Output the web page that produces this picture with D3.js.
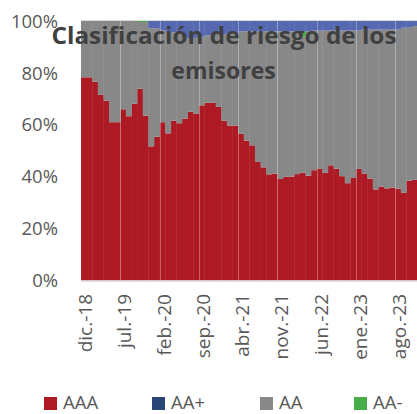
<!DOCTYPE html>
<html>
<head>
<meta charset="utf-8">
<script src="https://cdn.jsdelivr.net/npm/d3@7"></script>
<style>
  body { margin: 0; background: #fff; }
  text { font-family: "Open Sans", "Noto Sans", sans-serif; }
</style>
</head>
<body>
<div id="chart"></div>
<script>
// month labels, dic.-18 .. nov.-23
var monthNames = ["ene.","feb.","mar.","abr.","may.","jun.","jul.","ago.","sep.","oct.","nov.","dic."];
var months = [];
for (var k = 0; k < 60; k++) {
	var m = (11 + k) % 12, yr = 18 + Math.floor((11 + k) / 12);
	months.push(monthNames[m] + "-" + yr);
}

// % of portfolio by issuer rating
var AAA = [78.3,78.3,76.6,71.5,69.3,61.0,61.0,66.0,63.3,68.1,
	73.9,63.5,51.7,55.4,61.0,56.7,61.6,60.6,62.4,65.0,
	64.2,67.5,68.5,68.5,66.9,61.6,59.7,59.7,56.5,53.9,
	52.1,45.7,43.6,40.9,41.2,39.1,40.0,40.0,41.0,41.5,
	40.4,42.5,43.2,41.5,44.4,43.1,40.2,37.5,39.5,43.0,
	41.2,39.2,35.1,36.1,35.5,35.8,35.4,33.8,38.5,38.8];
var AA = [21.7,21.7,23.4,28.5,30.7,39.0,39.0,34.0,36.7,31.9,
	25.7,36.1,45.5,41.8,35.5,39.3,33.9,34.4,31.1,28.2,
	29.3,26.5,26.0,26.0,28.1,33.4,35.5,35.5,39.5,42.1,
	43.9,50.3,52.4,55.1,54.8,56.9,56.0,56.0,55.0,52.5,
	55.6,53.8,53.1,54.8,51.9,53.2,56.1,58.8,56.8,53.3,
	55.5,57.5,61.6,60.6,61.2,60.9,61.3,63.6,58.9,59.2];
var AAminus = [0,0,0,0,0,0,0,0,0,0,
	0.4,0.4,0,0,0,0,0,0,0,0,
	0,0,0,0,0,0,0,0,0,0,
	0,0,0,0,0,0,0,0,0,2.0,
	0,0,0,0,0,0,0,0,0,0,
	0,0,0,0,0,0,0,0,0,0];
var AAplus = [0,0,0,0,0,0,0,0,0,0,
	0,0,2.8,2.8,3.5,4.0,4.5,5.0,6.5,6.8,
	6.5,6.0,5.5,5.5,5.0,5.0,4.8,4.8,4.0,4.0,
	4,4,4,4,4,4,4,4,4,4.0,
	4.0,3.7,3.7,3.7,3.7,3.7,3.7,3.7,3.7,3.7,
	3.3,3.3,3.3,3.3,3.3,3.3,3.3,2.6,2.6,2.0];

var yTicks = [0, 20, 40, 60, 80, 100];

var series = [
	{key: "AAA", values: AAA, color: "#ae1a24"},
	{key: "AA", values: AA, color: "#888888"},
	{key: "AA-", values: AAminus, color: "#47ad4b"},
	{key: "AA+", values: AAplus, color: "#5669b0"}
];
var legendItems = [
	{key: "AAA", color: "#ae1a24", x: 44},
	{key: "AA+", color: "#2a4676", x: 152},
	{key: "AA", color: "#888888", x: 260},
	{key: "AA-", color: "#47ad4b", x: 354}
];

var W = 417, H = 414;
var svg = d3.select("#chart").append("svg")
		.attr("width", W)
		.attr("height", H);

var x = d3.scaleBand().domain(months).range([81, 417.6]).padding(0);
var y = d3.scaleLinear().domain([0, 100]).range([280.5, 21]);

var rows = months.map(function(mo, i) {
	var r = {month: mo};
	series.forEach(function(s) { r[s.key] = s.values[i]; });
	return r;
});
var stacked = d3.stack().keys(series.map(function(s) { return s.key; }))(rows);

// light frame line at 100%
svg.append("line")
	.attr("x1", 81).attr("x2", W)
	.attr("y1", y(100) - 0.5).attr("y2", y(100) - 0.5)
	.style("stroke", "#d9d9d9").style("stroke-width", 1);

var layers = svg.selectAll("g.layer").data(stacked).enter().append("g")
		.attr("class", "layer")
		.style("fill", function(d, i) { return series[i].color; });

layers.selectAll("rect")
	.data(function(d) { return d; })
	.enter().append("rect")
		.attr("x", function(d) { return x(d.data.month); })
		.attr("width", x.bandwidth() + 0.4)
		.attr("y", function(d) { return y(d[1]); })
		.attr("height", function(d) { return Math.max(0, y(d[0]) - y(d[1])); });

// vertical gridlines every 7 months, drawn faintly over the bars
var tickMonths = months.filter(function(d, i) { return i % 7 == 0; });
svg.selectAll("line.grid")
	.data(tickMonths.slice(1))
	.enter().append("line")
		.attr("class", "grid")
		.attr("x1", function(d) { return Math.round(x(d)) + 0.5; })
		.attr("x2", function(d) { return Math.round(x(d)) + 0.5; })
		.attr("y1", y(100)).attr("y2", y(0))
		.style("stroke", "#ffffff").style("stroke-opacity", 0.3);

svg.append("line")
	.attr("x1", 81).attr("x2", W)
	.attr("y1", y(0) + 0.5).attr("y2", y(0) + 0.5)
	.style("stroke", "#d9d9d9").style("stroke-width", 1.5);

// y axis labels
svg.selectAll("text.ylab")
	.data(yTicks)
	.enter().append("text")
		.attr("class", "ylab")
		.attr("x", 58)
		.attr("y", function(d) { return y(d); })
		.attr("dy", "0.36em")
		.attr("text-anchor", "end")
		.style("font-size", "18.5px")
		.style("fill", "#595959")
		.text(function(d) { return d + "%"; });

// x axis labels (rotated)
svg.selectAll("text.xlab")
	.data(tickMonths)
	.enter().append("text")
		.attr("class", "xlab")
		.attr("transform", function(d) {
			return "translate(" + (x(d) + x.bandwidth() / 2 + 1.5) + ",294) rotate(-90)";
		})
		.attr("dy", "0.35em")
		.attr("text-anchor", "end")
		.style("font-size", "19px")
		.style("fill", "#595959")
		.text(function(d) { return d; });

// title
var title = svg.append("g").style("font-weight", "bold").style("fill", "#404040")
		.style("font-size", "23px").attr("text-anchor", "middle");
title.append("text").attr("x", 224).attr("y", 43.5)
	.attr("textLength", 345).attr("lengthAdjust", "spacingAndGlyphs")
	.text("Clasificación de riesgo de los");
title.append("text").attr("x", 223.5).attr("y", 78.5)
	.text("emisores");

// legend
var leg = svg.selectAll("g.leg").data(legendItems).enter().append("g")
		.attr("class", "leg")
		.attr("transform", function(d) { return "translate(" + d.x + ",397)"; });
leg.append("rect").attr("width", 13).attr("height", 13)
	.style("fill", function(d) { return d.color; });
leg.append("text").attr("x", 19).attr("y", 12)
	.style("font-size", "18.5px").style("fill", "#595959")
	.text(function(d) { return d.key; });
</script>
</body>
</html>
